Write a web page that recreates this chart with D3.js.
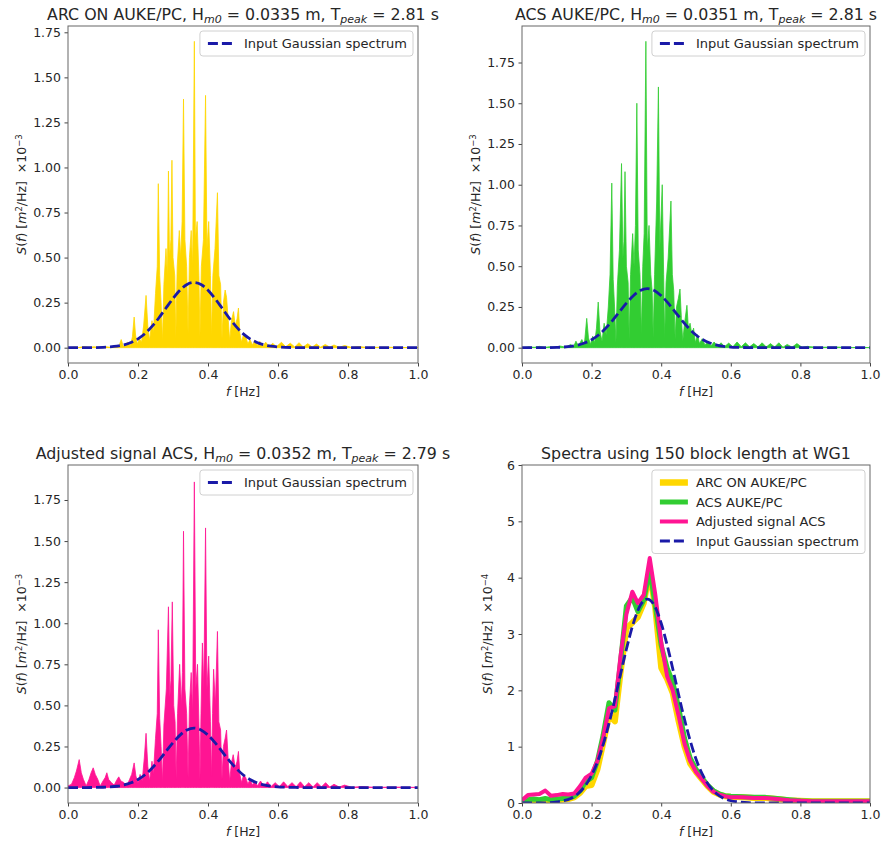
<!DOCTYPE html>
<html><head><meta charset="utf-8">
<script src="https://cdn.jsdelivr.net/npm/d3@7"></script>
<style>body{margin:0;background:#fff;} text{font-family:"DejaVu Sans",sans-serif;fill:#262626;}</style>
</head><body><svg id="c" width="882" height="843"></svg>
<script>
// ---------- DATA ----------
// Input Gaussian spectrum (S in 1e-3 m^2/Hz)
const gaussF = [0,0.05,0.10,0.12,0.14,0.16,0.18,0.20,0.22,0.24,0.26,0.28,0.30,0.32,0.34,0.36,0.38,0.40,0.42,0.44,0.46,0.48,0.50,0.52,0.54,0.56,0.58,0.60,0.62,0.65,0.70,0.80,0.90,1.0];
const gaussS = [0,0,0.002,0.004,0.008,0.016,0.029,0.049,0.078,0.118,0.166,0.220,0.273,0.319,0.351,0.362,0.351,0.319,0.273,0.220,0.166,0.118,0.078,0.049,0.029,0.016,0.008,0.004,0.002,0.0005,0,0,0,0];

// Raw spectrum, ARC ON AUKE/PC (1e-3 m^2/Hz)
const arcF = [0.000,0.020,0.030,0.045,0.060,0.075,0.090,0.105,0.120,0.135,0.145,0.152,0.158,0.170,0.178,0.184,0.189,0.193,0.198,0.204,0.210,0.216,0.223,0.228,0.233,0.240,0.244,0.250,0.255,0.258,0.262,0.266,0.270,0.274,0.280,0.284,0.287,0.290,0.294,0.297,0.300,0.305,0.308,0.312,0.318,0.322,0.326,0.330,0.334,0.339,0.343,0.347,0.352,0.356,0.361,0.364,0.369,0.374,0.377,0.381,0.387,0.393,0.397,0.402,0.407,0.410,0.414,0.420,0.427,0.431,0.436,0.440,0.444,0.449,0.453,0.458,0.462,0.467,0.473,0.478,0.483,0.487,0.491,0.496,0.502,0.508,0.514,0.520,0.527,0.534,0.541,0.548,0.556,0.565,0.575,0.585,0.595,0.610,0.622,0.635,0.648,0.660,0.672,0.685,0.698,0.710,0.722,0.735,0.748,0.760,0.775,0.790,0.810,0.830,0.860,0.900,0.950,1.000];
const arcS = [0.000,0.004,0.001,0.006,0.002,0.005,0.001,0.006,0.002,0.012,0.004,0.045,0.008,0.030,0.010,0.060,0.170,0.070,0.020,0.050,0.030,0.120,0.290,0.120,0.040,0.150,0.080,0.300,0.450,0.910,0.400,0.250,0.030,0.350,0.550,0.400,0.980,0.500,0.600,1.040,0.500,0.400,0.050,0.450,0.650,0.500,0.700,1.380,0.600,0.450,0.080,0.500,0.650,0.450,1.700,0.600,0.700,0.400,0.060,0.450,0.600,1.400,0.550,0.700,0.400,0.060,0.400,0.550,0.860,0.400,0.350,0.050,0.250,0.320,0.280,0.150,0.040,0.150,0.200,0.120,0.160,0.220,0.080,0.030,0.080,0.060,0.020,0.045,0.015,0.040,0.012,0.035,0.008,0.030,0.006,0.025,0.005,0.030,0.005,0.025,0.004,0.028,0.004,0.022,0.004,0.020,0.003,0.018,0.003,0.015,0.002,0.012,0.002,0.006,0.001,0.003,0.001,0.001];

// Raw spectrum, ACS AUKE/PC
const acsF = [0.000,0.020,0.035,0.050,0.065,0.080,0.095,0.110,0.125,0.140,0.148,0.155,0.162,0.172,0.179,0.186,0.191,0.197,0.203,0.209,0.214,0.219,0.224,0.230,0.236,0.242,0.248,0.253,0.258,0.262,0.266,0.270,0.274,0.280,0.286,0.290,0.293,0.296,0.300,0.305,0.308,0.312,0.318,0.322,0.326,0.330,0.334,0.339,0.343,0.347,0.351,0.356,0.360,0.365,0.370,0.374,0.377,0.381,0.387,0.392,0.396,0.403,0.407,0.410,0.414,0.420,0.428,0.432,0.436,0.440,0.444,0.449,0.454,0.458,0.462,0.467,0.474,0.478,0.483,0.488,0.493,0.498,0.504,0.510,0.518,0.526,0.534,0.543,0.552,0.562,0.572,0.582,0.594,0.606,0.618,0.630,0.642,0.654,0.666,0.678,0.690,0.702,0.714,0.726,0.738,0.750,0.762,0.776,0.790,0.805,0.820,0.850,0.900,0.950,1.000];
const acsS = [0.000,0.005,0.002,0.008,0.002,0.006,0.002,0.010,0.003,0.020,0.005,0.040,0.010,0.050,0.015,0.180,0.060,0.020,0.070,0.030,0.120,0.280,0.100,0.040,0.150,0.080,0.250,0.450,1.010,0.420,0.250,0.030,0.380,0.600,1.130,0.550,0.650,1.080,0.500,0.400,0.050,0.450,0.700,0.500,0.750,1.500,0.600,0.450,0.080,0.500,0.700,1.880,0.600,0.750,0.450,0.350,0.060,0.450,0.900,1.600,0.600,1.000,0.450,0.060,0.400,0.550,0.900,0.450,0.350,0.050,0.250,0.300,0.360,0.180,0.040,0.150,0.260,0.120,0.150,0.080,0.120,0.030,0.080,0.025,0.055,0.015,0.040,0.010,0.035,0.008,0.030,0.006,0.028,0.005,0.035,0.006,0.030,0.005,0.025,0.005,0.030,0.004,0.025,0.004,0.030,0.003,0.020,0.003,0.025,0.002,0.008,0.002,0.004,0.001,0.001];

// Raw spectrum, Adjusted signal ACS
const adjF = [0.000,0.010,0.018,0.024,0.032,0.038,0.044,0.052,0.060,0.066,0.072,0.078,0.085,0.092,0.100,0.106,0.111,0.116,0.124,0.132,0.139,0.145,0.151,0.160,0.168,0.176,0.182,0.189,0.194,0.200,0.206,0.212,0.218,0.223,0.228,0.233,0.240,0.244,0.250,0.255,0.258,0.262,0.266,0.270,0.274,0.281,0.287,0.291,0.294,0.298,0.302,0.306,0.309,0.313,0.319,0.324,0.327,0.330,0.334,0.339,0.343,0.347,0.352,0.356,0.361,0.365,0.370,0.374,0.377,0.380,0.384,0.388,0.393,0.397,0.402,0.407,0.410,0.413,0.416,0.421,0.427,0.431,0.436,0.440,0.444,0.449,0.453,0.458,0.462,0.467,0.472,0.478,0.483,0.487,0.491,0.496,0.502,0.508,0.514,0.520,0.527,0.534,0.541,0.550,0.560,0.570,0.580,0.592,0.604,0.616,0.628,0.640,0.652,0.664,0.676,0.688,0.700,0.712,0.724,0.736,0.748,0.760,0.775,0.790,0.810,0.840,0.880,0.930,1.000];
const adjS = [0.010,0.020,0.060,0.100,0.170,0.090,0.050,0.010,0.050,0.090,0.120,0.080,0.050,0.010,0.040,0.060,0.090,0.050,0.030,0.015,0.045,0.065,0.040,0.030,0.010,0.050,0.080,0.150,0.070,0.030,0.080,0.040,0.180,0.330,0.130,0.040,0.160,0.080,0.300,0.450,0.960,0.420,0.250,0.030,0.380,0.600,1.100,0.550,0.650,1.130,0.500,0.400,0.050,0.450,0.750,0.500,0.700,1.560,0.600,0.450,0.060,0.500,0.700,0.450,1.860,0.600,0.750,0.400,0.050,0.450,0.880,0.600,1.580,0.600,0.800,0.400,0.060,0.450,0.720,0.500,0.950,0.400,0.350,0.050,0.250,0.300,0.350,0.160,0.040,0.150,0.200,0.120,0.160,0.220,0.080,0.030,0.080,0.060,0.020,0.050,0.015,0.040,0.010,0.040,0.008,0.035,0.006,0.030,0.005,0.035,0.006,0.030,0.005,0.035,0.005,0.030,0.004,0.030,0.004,0.030,0.003,0.020,0.003,0.015,0.002,0.006,0.001,0.003,0.001];

// Block-averaged spectra (150 block length, WG1), S in 1e-4 m^2/Hz
const blockF = [0,0.017,0.033,0.05,0.067,0.083,0.1,0.117,0.133,0.15,0.167,0.183,0.2,0.217,0.233,0.25,0.267,0.283,0.3,0.317,0.333,0.35,0.367,0.383,0.4,0.417,0.433,0.45,0.467,0.483,0.5,0.517,0.533,0.55,0.567,0.583,0.6,0.633,0.667,0.7,0.733,0.767,0.8,0.833,0.867,0.9,0.933,0.967,1.0];
const blockArc = [0.01,0.03,0.04,0.04,0.05,0.04,0.05,0.06,0.07,0.10,0.18,0.30,0.32,0.60,1.05,1.55,1.45,2.30,3.10,3.20,3.30,3.55,4.10,3.45,2.40,2.20,1.95,1.45,1.00,0.70,0.55,0.42,0.30,0.20,0.15,0.12,0.11,0.10,0.09,0.09,0.07,0.05,0.04,0.03,0.03,0.03,0.03,0.03,0.03];
const blockAcs = [0.02,0.06,0.07,0.06,0.08,0.06,0.07,0.08,0.09,0.12,0.22,0.38,0.45,0.75,1.20,1.78,1.65,2.50,3.50,3.65,3.40,3.60,4.15,3.50,2.80,2.40,2.15,1.70,1.15,0.80,0.60,0.45,0.32,0.22,0.16,0.13,0.12,0.11,0.10,0.10,0.08,0.06,0.04,0.03,0.03,0.03,0.03,0.03,0.03];
const blockAdj = [0.05,0.14,0.15,0.16,0.22,0.13,0.14,0.16,0.15,0.17,0.30,0.45,0.52,0.75,1.15,1.68,1.72,2.60,3.35,3.75,3.55,3.70,4.35,3.70,2.85,2.25,2.00,1.55,1.05,0.75,0.55,0.42,0.30,0.20,0.15,0.12,0.10,0.10,0.09,0.09,0.07,0.05,0.04,0.03,0.03,0.03,0.03,0.03,0.03];
const gaussBlock = gaussS.map(v => v * 10); // same Gaussian in 1e-4 units

const xTicks = [0.0,0.2,0.4,0.6,0.8,1.0];
const yTicksRaw = [0,0.25,0.5,0.75,1.0,1.25,1.5,1.75];
const yTicksBlock = [0,1,2,3,4,5,6];

// ---------- DRAWING ----------
const svg = d3.select("#c");
const GOLD = "#FFD700", GREEN = "#32CD32", PINK = "#FF1493", BLUE = "#1a1aa8";
const zip = (fs, ss) => fs.map((f, i) => ({f, s: ss[i]}));

const rawPanels = [
  {x0:68,x1:418,y0:26,y1:363,yDom:[-0.085,1.785],name:"ARC ON AUKE/PC",hm:"0.0335",tp:"2.81",color:GOLD,f:arcF,s:arcS,exp:"−3"},
  {x0:522,x1:870,y0:26,y1:363,yDom:[-0.094,1.974],name:"ACS AUKE/PC",hm:"0.0351",tp:"2.81",color:GREEN,f:acsF,s:acsS,exp:"−3"},
  {x0:68,x1:418,y0:465,y1:803,yDom:[-0.094,1.963],name:"Adjusted signal ACS",hm:"0.0352",tp:"2.79",color:PINK,f:adjF,s:adjS,exp:"−3"}
];

function frame(p, yTicks, yFmt, labelOff) {
  const g = svg.append("g");
  const x = d3.scaleLinear().domain([0,1]).range([p.x0,p.x1]);
  const y = d3.scaleLinear().domain(p.yDom).range([p.y1,p.y0]);
  const id = "clip" + p.x0 + "_" + p.y0;
  svg.append("clipPath").attr("id", id).append("rect")
    .attr("x", p.x0).attr("y", p.y0).attr("width", p.x1-p.x0).attr("height", p.y1-p.y0);
  const plot = g.append("g").attr("clip-path", `url(#${id})`);
  const ax = g.append("g").attr("transform", `translate(0,${p.y1})`)
    .call(d3.axisBottom(x).tickValues(xTicks).tickFormat(d3.format(".1f")).tickSize(3.5).tickPadding(3.5));
  const ay = g.append("g").attr("transform", `translate(${p.x0},0)`)
    .call(d3.axisLeft(y).tickValues(yTicks).tickFormat(d3.format(yFmt)).tickSize(3.5).tickPadding(3.5));
  [ax, ay].forEach(a => {
    a.select(".domain").remove();
    a.selectAll("line").attr("stroke", "#444");
    a.selectAll("text").attr("font-size", 12.5).attr("fill", "#262626").attr("font-family", "DejaVu Sans");
  });
  g.append("rect").attr("x", p.x0).attr("y", p.y0).attr("width", p.x1-p.x0).attr("height", p.y1-p.y0)
    .attr("fill", "none").attr("stroke", "#666").attr("stroke-width", 1);
  const xl = g.append("text").attr("x", (p.x0+p.x1)/2).attr("y", p.y1+33).attr("text-anchor","middle").attr("font-size",12.5);
  xl.append("tspan").attr("font-style","italic").text("f");
  xl.append("tspan").text(" [Hz]");
  const yl = g.append("text").attr("transform", `translate(${p.x0-labelOff},${(p.y0+p.y1)/2}) rotate(-90)`)
    .attr("text-anchor","middle").attr("font-size",12.5).attr("xml:space","preserve");
  yl.append("tspan").attr("font-style","italic").text("S");
  yl.append("tspan").text("(");
  yl.append("tspan").attr("font-style","italic").text("f");
  yl.append("tspan").text(") [");
  yl.append("tspan").attr("font-style","italic").text("m");
  yl.append("tspan").attr("font-size",8.5).attr("dy",-4.5).text("2");
  yl.append("tspan").attr("dy",4.5).text("/Hz]\u00A0\u00A0×10");
  yl.append("tspan").attr("font-size",8.5).attr("dy",-4.5).text(p.exp);
  return {g, plot, x, y};
}

function legend(g, p, items) {
  const lg = g.append("g");
  const rowH = 19.5, padTop = 12.5;
  const texts = items.map((it, i) => lg.append("text").attr("font-size", 13).attr("dy", "0.35em")
      .attr("y", p.y0 + 5 + padTop + i*rowH).text(it.label));
  const w = d3.max(texts, t => t.node().getComputedTextLength());
  const boxW = 8 + 28 + 8 + w + 6, boxH = padTop*2 + (items.length-1)*rowH;
  const bx = p.x1 - 5 - boxW, by = p.y0 + 5;
  lg.insert("rect", ":first-child").attr("x", bx).attr("y", by).attr("width", boxW).attr("height", boxH)
    .attr("rx", 3).attr("fill", "#fff").attr("fill-opacity", 0.8).attr("stroke", "#d0d0d0");
  texts.forEach(t => t.attr("x", bx + 44));
  items.forEach((it, i) => {
    const cy = by + padTop + i*rowH;
    lg.append("line").attr("x1", bx+8).attr("x2", bx+36).attr("y1", cy).attr("y2", cy)
      .attr("stroke", it.color).attr("stroke-width", it.w).attr("stroke-dasharray", it.dash || null);
  });
}

function title(p, parts) {
  const t = svg.append("text").attr("x", (p.x0+p.x1)/2).attr("y", p.y0-6).attr("text-anchor","middle")
    .attr("font-size", 15.8).attr("fill", "#111");
  parts.forEach(pt => {
    const s = t.append("tspan").text(pt.t);
    if (pt.sub) s.attr("font-size", 11).attr("dy", 3).attr("font-style","italic");
    if (pt.back) s.attr("dy", -3);
  });
}

const gaussLine = (x, y, sArr) => d3.line().x(d => x(d.f)).y(d => y(d.s)).curve(d3.curveMonotoneX)(zip(gaussF, sArr));

rawPanels.forEach(p => {
  const {g, plot, x, y} = frame(p, yTicksRaw, ".2f", 42);
  const data = zip(p.f, p.s);
  plot.append("path").attr("d", d3.area().x(d => x(d.f)).y0(y(0)).y1(d => y(d.s))(data))
    .attr("fill", p.color).attr("stroke", p.color).attr("stroke-width", 0.8).attr("stroke-linejoin","round");
  plot.append("path").attr("d", gaussLine(x, y, gaussS)).attr("fill","none")
    .attr("stroke", BLUE).attr("stroke-width", 2.8).attr("stroke-dasharray", "10,4");
  legend(g, p, [{label:"Input Gaussian spectrum", color:BLUE, w:2.8, dash:"10,4"}]);
  title(p, [{t:p.name + ", H"},{t:"m0",sub:true},{t:" = " + p.hm + " m, T",back:true},{t:"peak",sub:true},{t:" = " + p.tp + " s",back:true}]);
});

const bp = {x0:522,x1:870,y0:465,y1:803,yDom:[0,6],exp:"−4"};
{
  const {g, plot, x, y} = frame(bp, yTicksBlock, "d", 30);
  const line = d3.line().x(d => x(d.f)).y(d => y(d.s)).curve(d3.curveLinear);
  [[blockArc, GOLD, 6], [blockAcs, GREEN, 5], [blockAdj, PINK, 4]].forEach(([arr, c, w]) => {
    plot.append("path").attr("d", line(zip(blockF, arr))).attr("fill","none").attr("stroke", c)
      .attr("stroke-width", w).attr("stroke-linejoin","round");
  });
  plot.append("path").attr("d", gaussLine(x, y, gaussBlock)).attr("fill","none")
    .attr("stroke", BLUE).attr("stroke-width", 2.8).attr("stroke-dasharray", "10,4");
  legend(g, bp, [
    {label:"ARC ON AUKE/PC", color:GOLD, w:6.5},
    {label:"ACS AUKE/PC", color:GREEN, w:5},
    {label:"Adjusted signal ACS", color:PINK, w:4},
    {label:"Input Gaussian spectrum", color:BLUE, w:2.8, dash:"10,4"}
  ]);
  title(bp, [{t:"Spectra using 150 block length at WG1"}]);
}
</script>
</body></html>
